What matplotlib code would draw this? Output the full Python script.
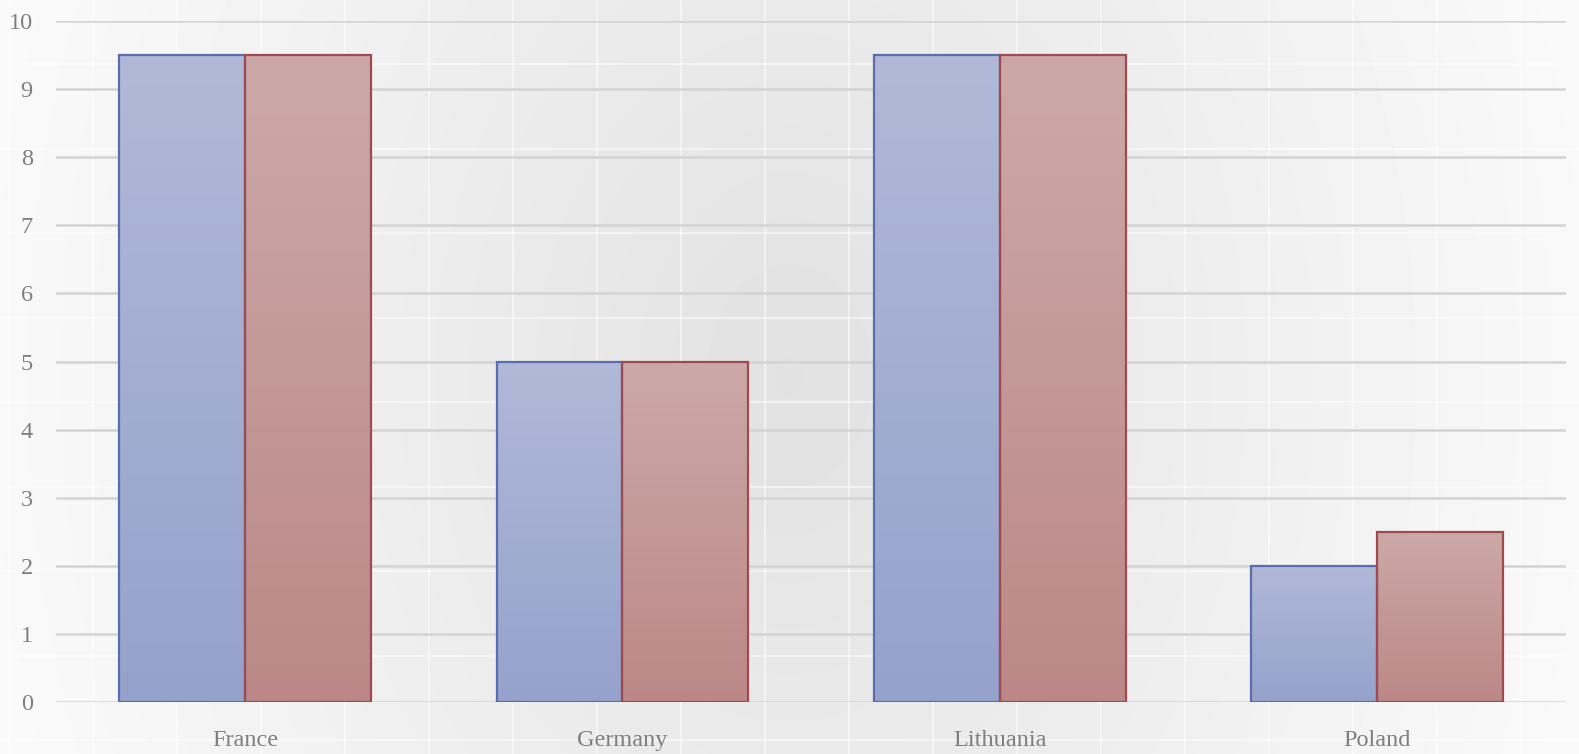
import numpy as np
import matplotlib
matplotlib.use("Agg")
import matplotlib.pyplot as plt
from matplotlib.colors import LinearSegmentedColormap

# donnees du graphique
pays = ["France", "Germany", "Lithuania", "Poland"]
serie_1 = [9.5, 5, 9.5, 2]
serie_2 = [9.5, 5, 9.5, 2.5]
graduations = list(range(0, 11))

plt.rcParams['font.family'] = ['Liberation Serif', 'DejaVu Serif']

fig = plt.figure(figsize=(15.79, 7.54), dpi=100)

# fond : degrade plus sombre au centre + quadrillage blanc discret
fond = fig.add_axes([0, 0, 1, 1], zorder=-10)
xx, yy = np.meshgrid(np.linspace(-1, 1, 400), np.linspace(-1, 1, 200))
r = np.sqrt((xx * 1.0) ** 2 + (yy * 0.35) ** 2)
niveau = 0.885 + 0.095 * np.clip(r, 0, 1.05) / 1.05
fond.imshow(niveau, cmap="gray", vmin=0, vmax=1, aspect="auto",
            extent=[0, 1579, 754, 0], interpolation="bicubic")
for x in np.arange(9, 1579, 84):
    fond.axvline(x, color="white", lw=1.5, alpha=0.5)
for y in np.arange(64, 754, 84.5):
    fond.axhline(y, color="white", lw=1.5, alpha=0.5)
fond.set_xlim(0, 1579)
fond.set_ylim(754, 0)
fond.axis("off")

ax = fig.add_axes([0.0357, 0.069, 0.956, 0.903])
ax.patch.set_alpha(0)

x = np.arange(len(pays))
largeur = 1 / 3

barres_1 = ax.bar(x - largeur / 2, serie_1, largeur, color="none",
                  edgecolor="#5a6db0", linewidth=1.6, zorder=3)
barres_2 = ax.bar(x + largeur / 2, serie_2, largeur, color="none",
                  edgecolor="#a04a50", linewidth=1.6, zorder=3)

degrade_bleu = LinearSegmentedColormap.from_list("bleu", ["#95a2cc", "#b1b9d8"])
degrade_rouge = LinearSegmentedColormap.from_list("rouge", ["#bb8887", "#cca9a8"])

grad = np.linspace(0, 1, 256).reshape(-1, 1)
for barres, cmap in [(barres_1, degrade_bleu), (barres_2, degrade_rouge)]:
    for b in barres:
        x0, h, w = b.get_x(), b.get_height(), b.get_width()
        im = ax.imshow(grad, cmap=cmap, aspect="auto", origin="lower",
                       extent=[x0, x0 + w, 0, h], zorder=2)
        im.set_clip_path(b)

ax.set_xlim(-0.5, len(pays) - 0.5)
ax.set_ylim(0, 10)
ax.set_yticks(graduations)
ax.set_xticks(x)
ax.set_xticklabels(pays)
ax.grid(axis="y", color="#d4d4d4", linewidth=1.8, zorder=1)
ax.set_axisbelow(True)
for s in ax.spines.values():
    s.set_visible(False)
ax.tick_params(axis="both", length=0, colors="#7f7f7f", labelsize=17.5)
ax.tick_params(axis="y", pad=17)
ax.tick_params(axis="x", pad=20)

fig.savefig("out.png", dpi=100)
